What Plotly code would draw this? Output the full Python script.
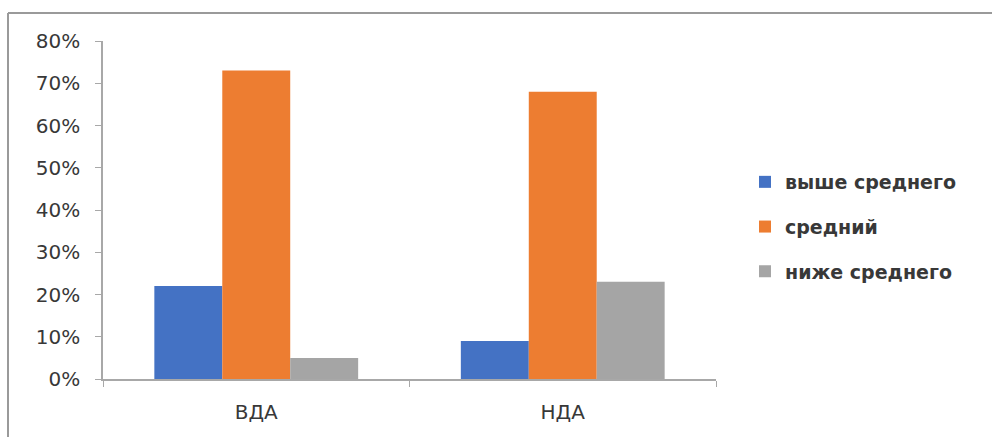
import plotly.graph_objects as go

categories = ["ВДА", "НДА"]
series_names = ["выше среднего", "средний", "ниже среднего"]
above_avg = [0.22, 0.09]
average = [0.73, 0.68]
below_avg = [0.05, 0.23]
colors = ["#4472C4", "#ED7D31", "#A5A5A5"]
y_ticks = [0, 0.1, 0.2, 0.3, 0.4, 0.5, 0.6, 0.7, 0.8]

W, H = 992, 437
L, R, T, B = 103, 992 - 716, 41, 437 - 379
pw, ph = W - L - R, H - T - B

fig = go.Figure()
for name, vals, col in zip(series_names, [above_avg, average, below_avg], colors):
    fig.add_trace(go.Bar(x=categories, y=vals, name=name, legendgroup=name,
                         marker=dict(color=col, line=dict(width=0))))

text_color = "#383838"
font_family = "DejaVu Sans, Arial, sans-serif"

# outer chart frame (top and left edges visible)
fx0 = (8 - L) / pw
fy1 = 1 + (T - 13) / ph
fig.add_shape(type="line", xref="paper", yref="paper", x0=fx0, x1=(W - L) / pw + 0.01,
              y0=fy1, y1=fy1, line=dict(color="#9a9a9a", width=2))
fig.add_shape(type="line", xref="paper", yref="paper", x0=fx0, x1=fx0,
              y0=fy1, y1=-(B + 5) / ph, line=dict(color="#9a9a9a", width=2))

fig.update_layout(
    width=W, height=H,
    margin=dict(l=L, r=R, t=T, b=B, pad=0),
    paper_bgcolor="white", plot_bgcolor="white",
    barmode="group", bargap=0.335, bargroupgap=0,
    font=dict(family=font_family, color=text_color, size=20),
    legend=dict(
        x=(745 - L) / pw, y=1 - (163 - T) / ph, xanchor="left", yanchor="top",
        font=dict(size=19, color=text_color, weight="bold"), itemwidth=30, tracegroupgap=17,
        bgcolor="rgba(0,0,0,0)",
    ),
    xaxis=dict(
        showline=True, linecolor="#a8a8a8", linewidth=1.5,
        ticks="outside", ticklen=6, tickcolor="#a8a8a8",
        tickson="boundaries", showgrid=False,
        tickfont=dict(size=20, color=text_color), ticklabelstandoff=14,
    ),
    yaxis=dict(
        range=[0, 0.8], tickvals=y_ticks, tickformat=".0%",
        showline=True, linecolor="#a8a8a8", linewidth=1.5,
        ticks="outside", ticklen=6, tickcolor="#a8a8a8",
        showgrid=False, zeroline=False,
        tickfont=dict(size=20, color=text_color), ticklabelstandoff=11,
    ),
    showlegend=True,
)

fig.write_html("out.html")
